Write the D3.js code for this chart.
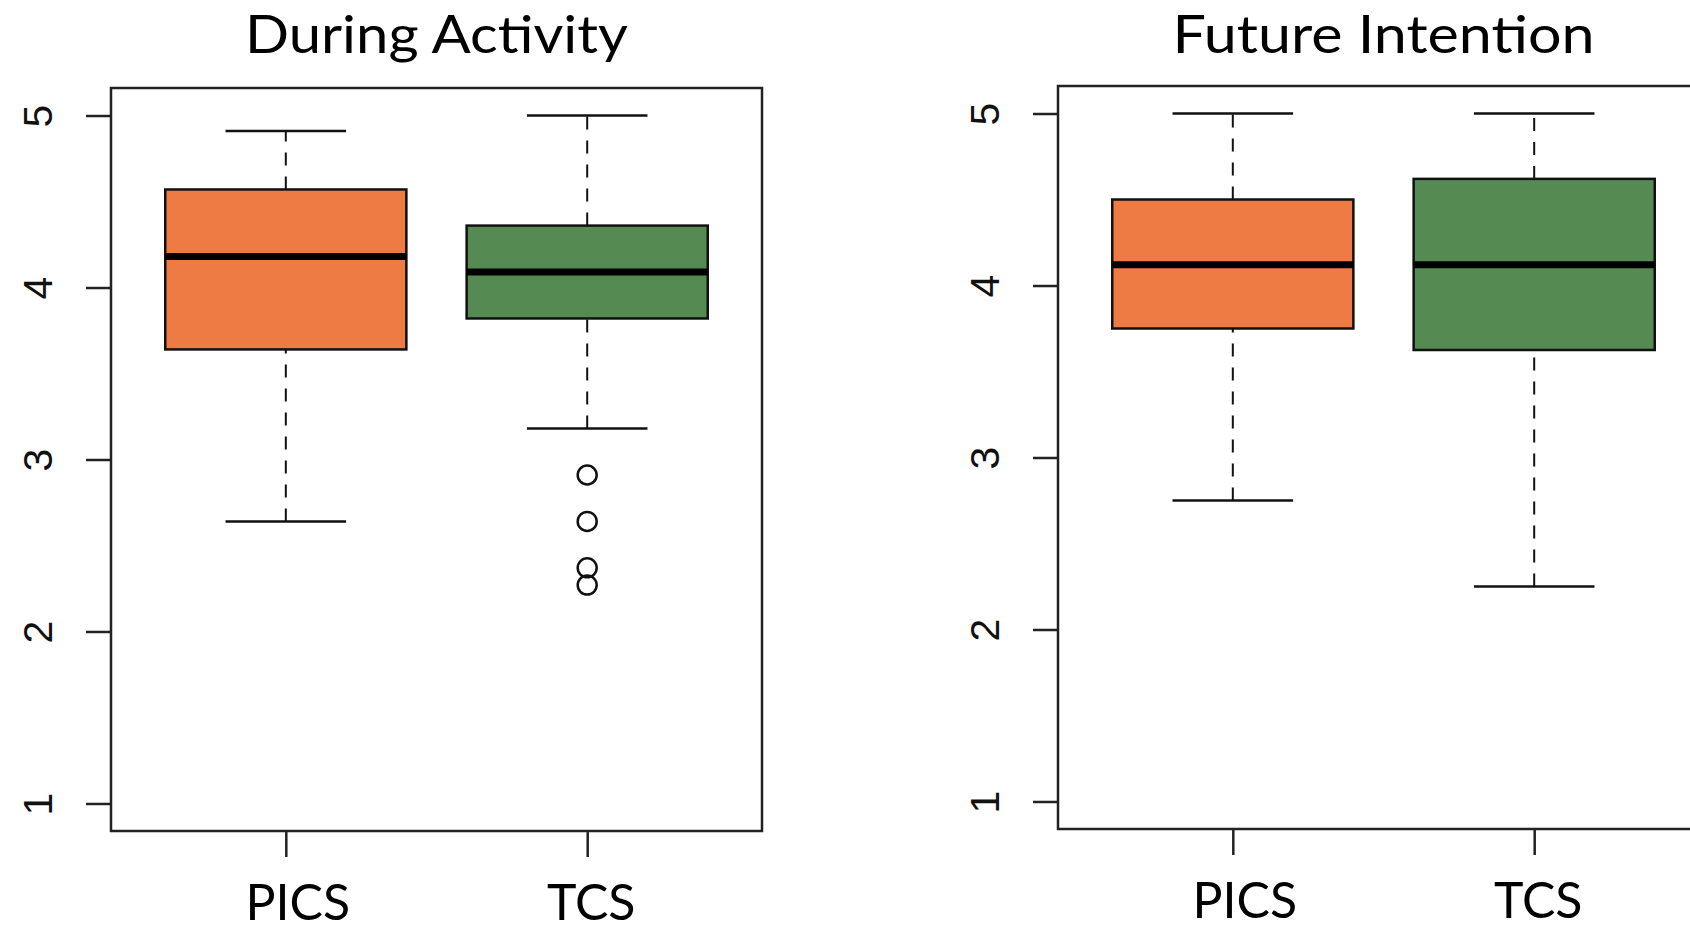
<!DOCTYPE html>
<html>
<head>
<meta charset="utf-8">
<script src="https://cdn.jsdelivr.net/npm/d3@7"></script>
<style>
  body { margin: 0; background: #fff; }
  svg { display: block; }
</style>
</head>
<body>
<div id="chart"></div>
<script>
// values
const groups = ["PICS", "TCS"];
const panelTitles = ["During Activity", "Future Intention"];
const yTicks = [1, 2, 3, 4, 5];

// [whiskerLow, q1, median, q3, whiskerHigh] per group
const duringStats = [
    [2.64, 3.64, 4.18, 4.57, 4.91],
    [3.18, 3.82, 4.09, 4.36, 5.00]
];
const futureStats = [
    [2.75, 3.75, 4.12, 4.50, 5.00],
    [2.25, 3.625, 4.12, 4.62, 5.00]
];
const duringOutliers = [[], [2.91, 2.64, 2.37, 2.27]];
const futureOutliers = [[], []];

const fills = ["#ED7B43", "#558B53"];

const W = 1690, H = 932;
const svg = d3.select("#chart").append("svg")
    .attr("width", W)
    .attr("height", H);

function boxPanel(left, top, title, stats, outliers, titleW) {
    const width = 651, height = 743;
    const g = svg.append("g").attr("transform", "translate(" + left + "," + top + ")");

    // R style: xlim 0.5..2.5, ylim 1..5, both padded 4%
    const x = d3.scaleLinear().domain([0.42, 2.58]).range([0, width]);
    const y = d3.scaleLinear().domain([0.84, 5.16]).range([height, 0]);
    const bw = x(1.8) - x(1);   // box width 0.8
    const capW = bw / 2;        // staple half as wide

    // frame
    g.append("rect")
        .attr("width", width)
        .attr("height", height)
        .attr("fill", "none")
        .attr("stroke", "#222")
        .attr("stroke-width", 2.5);

    // title
    g.append("text")
        .attr("x", width / 2)
        .attr("y", top === 88 ? -35 : -33)
        .attr("text-anchor", "middle")
        .attr("font-family", "Lato, 'Open Sans', sans-serif")
        .attr("font-size", 52)
        .attr("textLength", titleW)
        .attr("lengthAdjust", "spacingAndGlyphs")
        .text(title);

    // y axis
    const yAxis = g.append("g")
        .call(d3.axisLeft(y).tickValues(yTicks).tickSize(25).tickPadding(0).tickFormat(d3.format("d")))
        .call(a => a.select(".domain").remove());
    yAxis.selectAll("line").attr("stroke", "#222").attr("stroke-width", 2.5);
    yAxis.selectAll("text")
        .attr("x", null).attr("dy", null)
        .attr("transform", "translate(-73,0) rotate(-90)")
        .attr("text-anchor", "middle")
        .attr("dominant-baseline", "central")
        .attr("font-family", "'Liberation Sans', Arial, sans-serif")
        .attr("font-size", 41)
        .attr("fill", "#111");

    // x ticks
    const xAxis = g.append("g")
        .attr("transform", "translate(0," + height + ")")
        .call(d3.axisBottom(x).tickValues([1, 2]).tickSize(26).tickFormat(""))
        .call(a => a.select(".domain").remove());
    xAxis.selectAll("line").attr("stroke", "#222").attr("stroke-width", 2.5);

    // category labels
    const labelShift = [12, 4];
    g.selectAll(".cat")
        .data(groups)
        .join("text")
        .attr("class", "cat")
        .attr("x", (d, i) => x(i + 1) + labelShift[i])
        .attr("y", height + 89)
        .attr("text-anchor", "middle")
        .attr("font-family", "Lato, 'Open Sans', sans-serif")
        .attr("font-size", 50)
        .text(d => d);

    stats.forEach((s, i) => {
        const cx = x(i + 1);
        const [lo, q1, med, q3, hi] = s;

        // dashed whiskers
        [[q3, hi], [lo, q1]].forEach(([a, b]) => {
            g.append("line")
                .attr("x1", cx).attr("x2", cx)
                .attr("y1", y(a)).attr("y2", y(b))
                .attr("stroke", "#111")
                .attr("stroke-width", 2)
                .attr("stroke-dasharray", "13,11");
        });
        // staples
        [lo, hi].forEach(v => {
            g.append("line")
                .attr("x1", cx - capW / 2).attr("x2", cx + capW / 2)
                .attr("y1", y(v)).attr("y2", y(v))
                .attr("stroke", "#111")
                .attr("stroke-width", 2.5);
        });
        // box
        g.append("rect")
            .attr("x", cx - bw / 2)
            .attr("y", y(q3))
            .attr("width", bw)
            .attr("height", y(q1) - y(q3))
            .attr("fill", fills[i])
            .attr("stroke", "#111")
            .attr("stroke-width", 2.5);
        // median
        g.append("line")
            .attr("x1", cx - bw / 2).attr("x2", cx + bw / 2)
            .attr("y1", y(med)).attr("y2", y(med))
            .attr("stroke", "#000")
            .attr("stroke-width", 7);

        g.selectAll(".out" + i)
            .data(outliers[i])
            .join("circle")
            .attr("class", "out" + i)
            .attr("cx", cx)
            .attr("cy", d => y(d))
            .attr("r", 9.5)
            .attr("fill", "none")
            .attr("stroke", "#111")
            .attr("stroke-width", 2.5);
    });
}

boxPanel(111, 88, panelTitles[0], duringStats, duringOutliers, 383);
boxPanel(1058, 86, panelTitles[1], futureStats, futureOutliers, 422);
</script>
</body>
</html>
